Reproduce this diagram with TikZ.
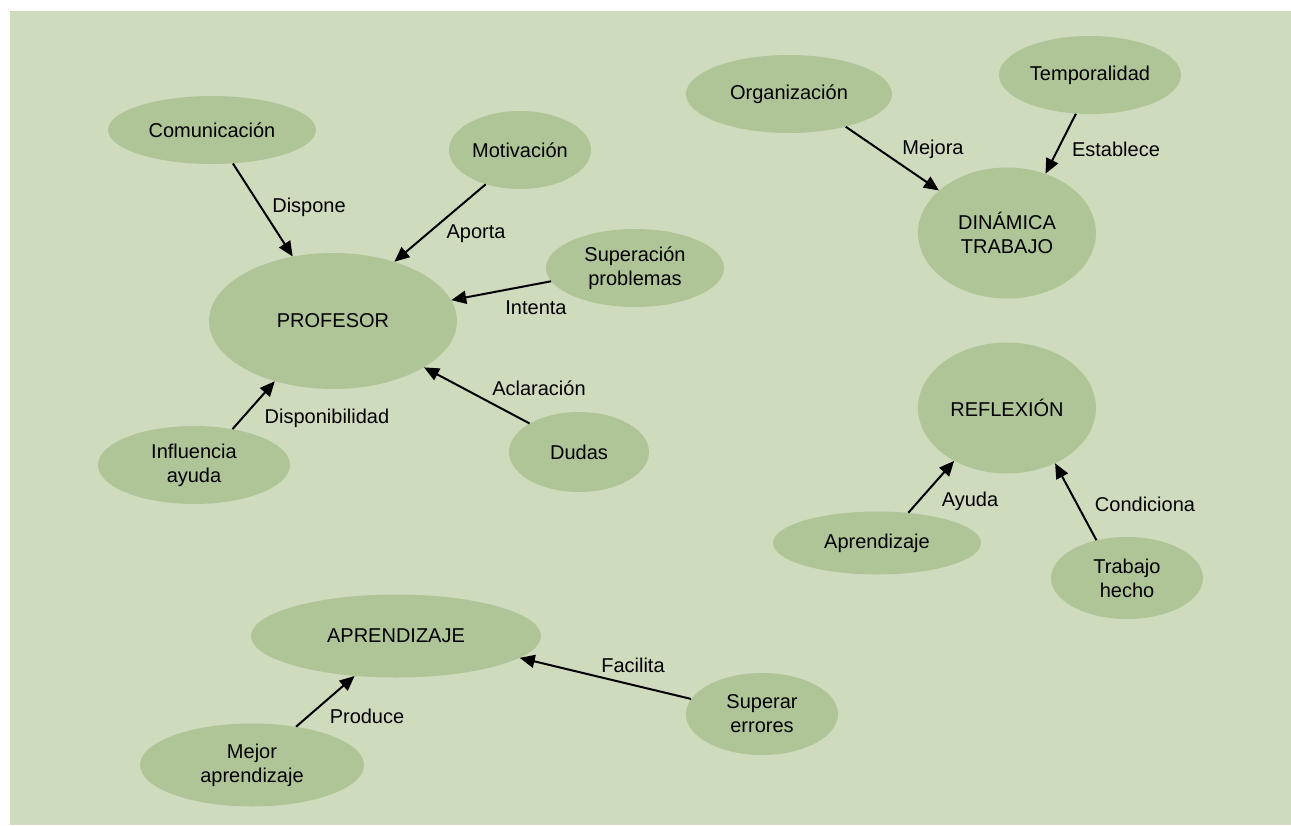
\documentclass[tikz,border=0pt]{standalone}
\usepackage{fontspec}
\setmainfont{Liberation Sans}
\usetikzlibrary{shapes.geometric,arrows.meta}
\definecolor{bgc}{RGB}{207,219,189}
\definecolor{elc}{RGB}{175,197,151}
\begin{document}
\begin{tikzpicture}[x=1pt,y=-1pt,
  bub/.style={ellipse,fill=elc,draw=none,inner sep=0pt,align=center,
    font=\fontsize{20}{24}\selectfont,text=black},
  lbl/.style={font=\fontsize{20}{24}\selectfont,inner sep=0pt,text=black},
  arr/.style={-{Triangle[length=15pt,width=13pt]},line width=2pt,black}]
\useasboundingbox (0,0) rectangle (1291,825);
\fill[white] (0,0) rectangle (1291,825);
\fill[bgc] (10,11) rectangle (1291,825);
% nodes
\node[bub,minimum width=208,minimum height=68] (com) at (212,130) {Comunicación};
\node[bub,minimum width=142,minimum height=78] (mot) at (520,150) {Motivación};
\node[bub,minimum width=248,minimum height=136] (prof) at (333,321) {PROFESOR};
\node[bub,minimum width=178,minimum height=78] (sup) at (635,268) {Superación\\problemas};
\node[bub,minimum width=192,minimum height=78] (inf) at (194,465) {Influencia\\ayuda};
\node[bub,minimum width=140,minimum height=80] (dud) at (579,452) {Dudas};
\node[bub,minimum width=206,minimum height=78] (org) at (789,94) {Organización};
\node[bub,minimum width=182,minimum height=78] (tem) at (1090,75) {Temporalidad};
\node[bub,minimum width=178,minimum height=131] (din) at (1007,233) {DINÁMICA\\TRABAJO};
\node[bub,minimum width=178,minimum height=131] (ref) at (1007,408) {REFLEXIÓN};
\node[bub,minimum width=208,minimum height=63] (apr) at (877,543) {Aprendizaje};
\node[bub,minimum width=152,minimum height=82] (tra) at (1127,578) {Trabajo\\hecho};
\node[bub,minimum width=290,minimum height=83] (APR) at (396,636) {APRENDIZAJE};
\node[bub,minimum width=152,minimum height=82] (sue) at (762,714) {Superar\\errores};
\node[bub,minimum width=224,minimum height=83] (mej) at (252,765) {Mejor\\aprendizaje};
% arrows
\draw[arr] (com.302) -- (prof.122);
\draw[arr] (mot.225) -- (prof.44);
\draw[arr] (sup.189) -- (prof.10);
\draw[arr] (dud.150) -- (prof.333);
\draw[arr] (inf.43) -- (prof.226);
\draw[arr] (org.330) -- (din.148);
\draw[arr] (tem.250) -- (din.57);
\draw[arr] (apr.44) -- (ref.225);
\draw[arr] (tra.129) -- (ref.311);
\draw[arr] (sue.168) -- (APR.350);
\draw[arr] (mej.41) -- (APR.224);
% labels
\node[lbl] (l1) at (309,207) {Dispone};
\node[lbl] (l2) at (476,234) {Aporta};
\node[lbl] (l3) at (536,308) {Intenta};
\node[lbl] (l4) at (539,388) {Aclaración};
\node[lbl] (l5) at (327,418) {Disponibilidad};
\node[lbl] (l6) at (933,149) {Mejora};
\node[lbl] (l7) at (1116,149) {Establece};
\node[lbl] (l8) at (970,501) {Ayuda};
\node[lbl] (l9) at (1145,504) {Condiciona};
\node[lbl] (l10) at (633,665) {Facilita};
\node[lbl] (l11) at (367,716) {Produce};
\end{tikzpicture}
\end{document}
